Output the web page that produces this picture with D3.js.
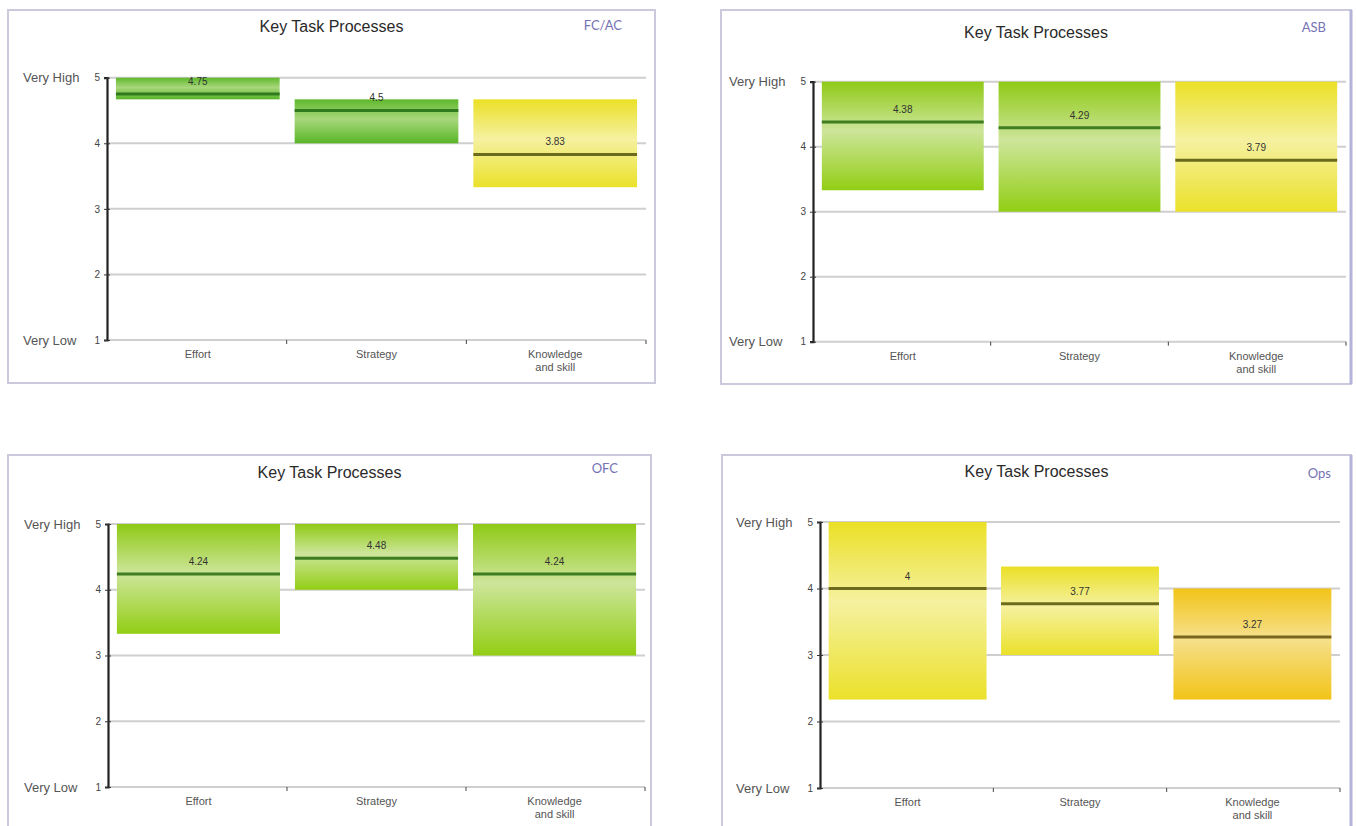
<!DOCTYPE html>
<html>
<head>
<meta charset="utf-8">
<script src="https://cdn.jsdelivr.net/npm/d3@7"></script>
<style>
  html, body { margin: 0; padding: 0; background: #ffffff; }
  svg { display: block; }
</style>
</head>
<body>
<svg id="chart" width="1356" height="826"></svg>
<script>
// ---------- data ----------
const chartTitle = "Key Task Processes";
const panelNames = ["FC/AC", "ASB", "OFC", "Ops"];
const categories = ["Effort", "Strategy", "Knowledge\nand skill"];
const yTicks = [1, 2, 3, 4, 5];
const yEndLabels = ["Very Low", "Very High"];
// box ranges (low / high) and mean per panel, per category
const lows  = [[4.67, 4.00, 3.33], [3.33, 3.00, 3.00], [3.33, 4.00, 3.00], [2.33, 3.00, 2.33]];
const highs = [[5.00, 4.67, 4.67], [5.00, 5.00, 5.00], [5.00, 5.00, 5.00], [5.00, 4.33, 4.00]];
const means = [[4.75, 4.5, 3.83], [4.38, 4.29, 3.79], [4.24, 4.48, 4.24], [4, 3.77, 3.27]];
const bands = [["dkgreen", "dkgreen", "yellow"], ["green", "green", "yellow"],
               ["green", "green", "green"], ["yellow", "yellow", "orange"]];

// ---------- styles ----------
const palette = {
  dkgreen: { top: "#5fb92c", mid: "#a8d67c", bot: "#58b527", line: "#2f7a1f" },
  green:   { top: "#8fca16", mid: "#cde59a", bot: "#92ce14", line: "#3e7d22" },
  yellow:  { top: "#ebe026", mid: "#f5f1a0", bot: "#ebe12a", line: "#6c6a1c" },
  orange:  { top: "#f2c418", mid: "#f6e08c", bot: "#f2c418", line: "#77661c" }
};

const layouts = [
  { left: 8,   top: 10,  right: 655,  bottom: 383, ax: 107, ar: 646,  y5: 77.7, y1: 340,   titleY: 32,  tagX: 622,  tagY: 30,  accent: false },
  { left: 721, top: 10,  right: 1351, bottom: 384, ax: 813, ar: 1346, y5: 81.7, y1: 341.7, titleY: 38,  tagX: 1326, tagY: 32,  accent: true },
  { left: 8,   top: 455, right: 651,  bottom: 845, ax: 108, ar: 645,  y5: 524,  y1: 787,   titleY: 478, tagX: 618,  tagY: 473, accent: false },
  { left: 722, top: 455, right: 1351, bottom: 845, ax: 820, ar: 1340, y5: 522,  y1: 788,   titleY: 477, tagX: 1331, tagY: 478, accent: true }
];

const svg = d3.select("#chart");
const defs = svg.append("defs");
Object.entries(palette).forEach(([k, c]) => {
  const g = defs.append("linearGradient").attr("id", "grad-" + k)
    .attr("x1", 0).attr("y1", 0).attr("x2", 0).attr("y2", 1);
  g.append("stop").attr("offset", "0%").attr("stop-color", c.top);
  g.append("stop").attr("offset", "45%").attr("stop-color", c.mid);
  g.append("stop").attr("offset", "100%").attr("stop-color", c.bot);
});

const sans = "'Liberation Sans', Arial, sans-serif";

panelNames.forEach((name, p) => {
  const L = layouts[p];
  const g = svg.append("g");

  // panel frame
  g.append("rect")
    .attr("x", L.left).attr("y", L.top)
    .attr("width", L.right - L.left).attr("height", L.bottom - L.top)
    .attr("fill", "#ffffff").attr("stroke", "#cacadc").attr("stroke-width", 2);
  if (L.accent) {
    g.append("line")
      .attr("x1", L.right).attr("x2", L.right).attr("y1", L.top).attr("y2", L.bottom)
      .attr("stroke", "#b4b4da").attr("stroke-width", 3);
  }

  // title and tag
  g.append("text").attr("x", (L.left + L.right) / 2).attr("y", L.titleY)
    .attr("text-anchor", "middle").attr("font-family", sans)
    .attr("font-size", 16).attr("fill", "#2a2a2a").text(chartTitle);
  g.append("text").attr("x", L.tagX).attr("y", L.tagY)
    .attr("text-anchor", "end").attr("font-family", "Lato, 'Open Sans', sans-serif")
    .attr("font-size", 13).attr("fill", "#7573b6").text(name);

  const y = d3.scaleLinear().domain([1, 5]).range([L.y1, L.y5]);
  const x = d3.scaleBand().domain(categories).range([L.ax, L.ar])
    .paddingInner(0.084).paddingOuter(0.05);
  const xb = d3.scaleLinear().domain([0, categories.length]).range([L.ax, L.ar]);

  // gridlines
  g.append("g").selectAll("line").data(yTicks).join("line")
    .attr("x1", L.ax).attr("x2", L.ar)
    .attr("y1", d => y(d)).attr("y2", d => y(d))
    .attr("stroke", "#cfcfcf").attr("stroke-width", 2);

  // boxes
  const rows = categories.map((c, i) => ({
    cat: c, lo: lows[p][i], hi: highs[p][i], mean: means[p][i], band: bands[p][i]
  }));
  const bars = g.append("g").selectAll("g").data(rows).join("g");
  bars.append("rect")
    .attr("x", d => x(d.cat)).attr("width", x.bandwidth())
    .attr("y", d => y(d.hi)).attr("height", d => y(d.lo) - y(d.hi))
    .attr("fill", d => "url(#grad-" + d.band + ")");
  bars.append("line")
    .attr("x1", d => x(d.cat)).attr("x2", d => x(d.cat) + x.bandwidth())
    .attr("y1", d => y(d.mean)).attr("y2", d => y(d.mean))
    .attr("stroke", d => palette[d.band].line).attr("stroke-width", 3);
  bars.append("text")
    .attr("x", d => x(d.cat) + x.bandwidth() / 2).attr("y", d => y(d.mean) - 9)
    .attr("text-anchor", "middle").attr("font-family", sans)
    .attr("font-size", 10).attr("fill", "#333").text(d => d.mean);

  // x axis ticks at category boundaries
  g.append("g").selectAll("line").data(d3.range(1, categories.length + 1)).join("line")
    .attr("x1", d => xb(d)).attr("x2", d => xb(d))
    .attr("y1", L.y1).attr("y2", L.y1 + 4)
    .attr("stroke", "#444").attr("stroke-width", 1);
  const cl = g.append("g").selectAll("text").data(categories).join("text")
    .attr("x", d => x(d) + x.bandwidth() / 2).attr("y", L.y1 + 18)
    .attr("text-anchor", "middle").attr("font-family", sans)
    .attr("font-size", 11).attr("fill", "#555");
  cl.each(function(d) {
    d3.select(this).selectAll("tspan").data(d.split("\n")).join("tspan")
      .attr("x", x(d) + x.bandwidth() / 2)
      .attr("dy", (t, i) => i === 0 ? 0 : 13)
      .text(t => t);
  });

  // y axis
  const yAxis = d3.axisLeft(y).tickValues(yTicks).tickSize(3).tickPadding(4)
    .tickFormat(d3.format("d"));
  const ya = g.append("g").attr("transform", `translate(${L.ax},0)`).call(yAxis);
  ya.select(".domain").attr("stroke", "#222").attr("stroke-width", 2.2);
  ya.selectAll(".tick line").attr("stroke", "#333").attr("x2", 3).attr("x1", -3);
  ya.selectAll(".tick text").attr("font-family", sans).attr("font-size", 10).attr("fill", "#444");

  g.append("text").attr("x", L.ax - 84).attr("y", y(1)).attr("dy", "0.35em")
    .attr("font-family", sans).attr("font-size", 13).attr("fill", "#555").text(yEndLabels[0]);
  g.append("text").attr("x", L.ax - 84).attr("y", y(5)).attr("dy", "0.35em")
    .attr("font-family", sans).attr("font-size", 13).attr("fill", "#555").text(yEndLabels[1]);
});
</script>
</body>
</html>
